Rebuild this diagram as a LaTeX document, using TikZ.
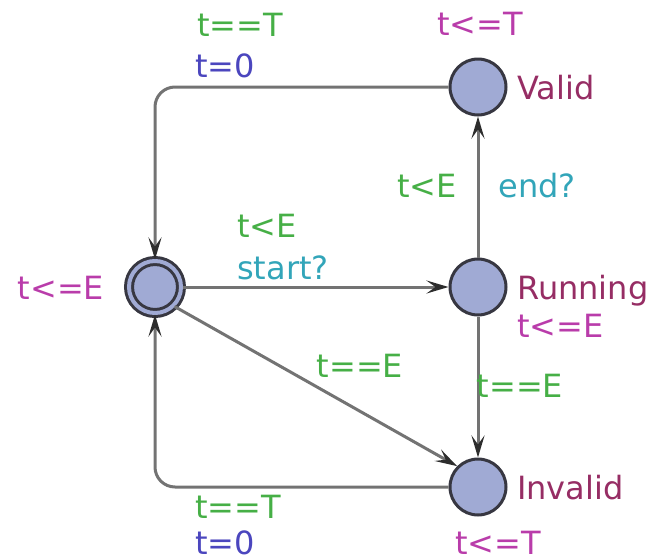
\documentclass[tikz,border=0pt]{standalone}
\usepackage{fontspec}
\setmainfont{DejaVu Sans}
\usetikzlibrary{arrows.meta}
\definecolor{guardc}{RGB}{70,175,70}
\definecolor{invc}{RGB}{185,60,170}
\definecolor{assc}{RGB}{75,70,190}
\definecolor{syncc}{RGB}{50,165,185}
\definecolor{namec}{RGB}{150,45,100}
\definecolor{locfill}{RGB}{160,170,212}
\definecolor{locdraw}{RGB}{55,55,65}
\definecolor{edgec}{RGB}{115,115,115}
\definecolor{tipc}{RGB}{45,45,45}
\begin{document}
\begin{tikzpicture}[x=1pt,y=-1pt,
  loc/.style={circle,draw=locdraw,fill=locfill,line width=3pt,minimum size=56pt,inner sep=0pt},
  edge/.style={draw=edgec,line width=3pt,-{Stealth[length=22pt,width=13pt,inset=9pt,color=tipc]}},
  lbl/.style={font=\fontsize{32}{38}\selectfont,inner sep=0pt},
  guard/.style={lbl,text=guardc},
  inv/.style={lbl,text=invc},
  ass/.style={lbl,text=assc},
  sync/.style={lbl,text=syncc},
  lname/.style={lbl,text=namec}]
\useasboundingbox (0,0) rectangle (654,560);
\node[loc,double=locfill,double distance=4pt,minimum size=52pt] (init) at (155,287) {};
\node[loc] (valid) at (478,87) {};
\node[loc] (run) at (478,287) {};
\node[loc] (inv) at (478,487) {};
\coordinate (c1) at (155,87);
\coordinate (c2) at (155,487);
\draw[edge,rounded corners=20pt] (valid.west) -- (c1) -- (init.north);
\draw[edge,rounded corners=20pt] (inv.west) -- (c2) -- (init.south);
\draw[edge] (run.north) -- (valid.south);
\draw[edge] (init.east) -- (run.west);
\draw[edge] (init.south east) -- (inv.north west);
\draw[edge] (run.south) -- (inv.north);
% labels
\node[guard,anchor=base west] (g1) at (197,36) {t==T};
\node[ass,anchor=base west] (a1) at (195,77) {t=0};
\node[inv,anchor=base] (i1) at (480,35) {t<=T};
\node[lname,anchor=base west] (n1) at (517,99) {Valid};
\node[guard,anchor=base] (g2) at (427,197) {t<E};
\node[sync,anchor=base] (s2) at (537,197) {end?};
\node[guard,anchor=base west] (g3) at (237,237) {t<E};
\node[sync,anchor=base west] (s3) at (237,279) {start?};
\node[inv,anchor=base] (i0) at (61,299) {t<=E};
\node[lname,anchor=base west] (n2) at (517,299) {Running};
\node[inv,anchor=base west] (i2) at (517,337) {t<=E};
\node[guard,anchor=base] (g4) at (360,377) {t==E};
\node[guard,anchor=base] (g5) at (520,397) {t==E};
\node[lname,anchor=base west] (n3) at (517,499) {Invalid};
\node[guard,anchor=base west] (g6) at (195,518) {t==T};
\node[ass,anchor=base west] (a6) at (195,554) {t=0};
\node[inv,anchor=base] (i3) at (498,554) {t<=T};
\end{tikzpicture}
\end{document}
